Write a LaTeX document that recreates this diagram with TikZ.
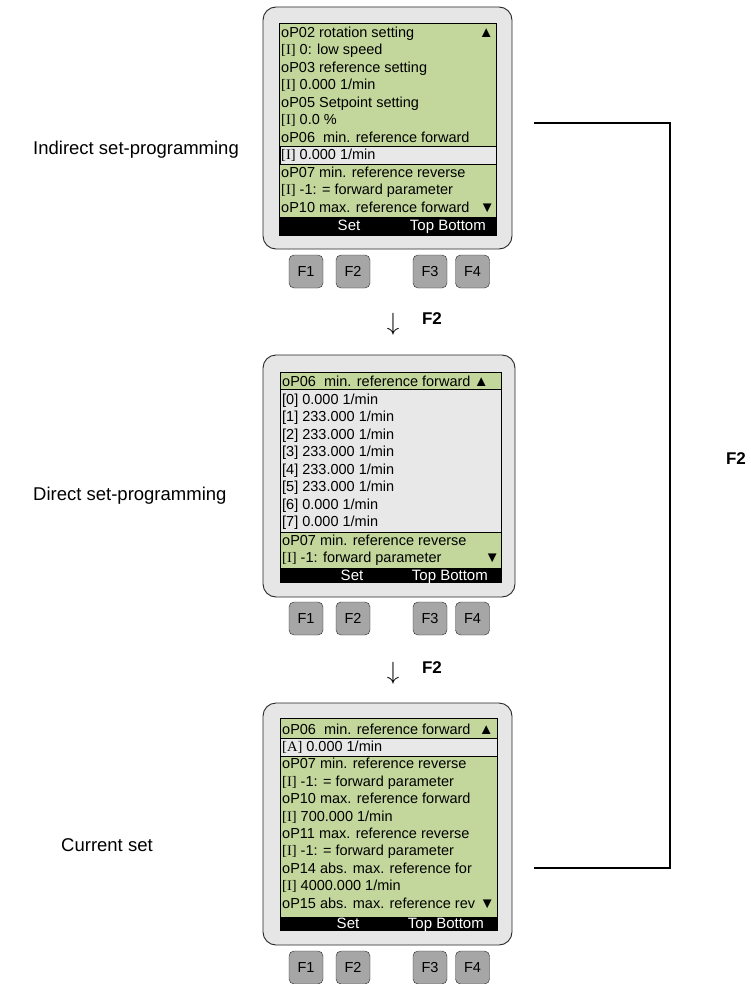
\documentclass[tikz,border=0pt]{standalone}
\usepackage{fontspec}
\setmainfont{Liberation Sans}
\newfontfamily\tagfont{Liberation Serif}
\usepackage{tikz}
\usetikzlibrary{positioning}
\definecolor{lcdgreen}{HTML}{C3D69B}
\definecolor{lcdgray}{HTML}{E8E8E8}
\definecolor{casegray}{HTML}{E6E6E6}
\definecolor{keygray}{HTML}{A6A6A6}
\newcommand{\tagI}{{\tagfont[I]}}
\newcommand{\tagA}{{\tagfont[A]}}
\newcommand{\up}{{\fontsize{15}{15}\selectfont ▲}}
\newcommand{\dn}{{\fontsize{15}{15}\selectfont ▼}}

\begin{document}
\begin{tikzpicture}[x=1pt, y=-1pt,
    casing/.style={draw=black!85, fill=casegray, line width=0.9pt, rounded corners=13pt, inner sep=0pt},
    softkey/.style={draw=black!85, fill=keygray, rounded corners=5pt, minimum width=34pt, minimum height=33pt, inner sep=0pt, font=\fontsize{14.5}{16}\selectfont},
    row/.style={anchor=base west, inner sep=0pt, font=\fontsize{14.5}{16}\selectfont},
    barlabel/.style={inner sep=0pt, text=white, font=\fontsize{15}{16}\selectfont},
    sidelabel/.style={anchor=west, inner sep=0pt, font=\fontsize{18.5}{20}\selectfont},
    keyhint/.style={inner sep=0pt, font=\bfseries\fontsize{17}{19}\selectfont},
    down/.style={inner sep=0pt, font=\fontsize{26}{26}\selectfont}
]
\useasboundingbox (0,0) rectangle (751,984);

% Indirect set-programming
\node[sidelabel] (lbl1) at (33,150) {Indirect set-programming};
\node[casing, minimum width=249pt, minimum height=242pt] (dev1) at (387.5,128) {};
\fill[lcdgreen] (279,23) rectangle (496,217);
\fill[black] (279,217) rectangle (496,235);
\draw[fill=lcdgray, line width=0.6pt] (280,146) rectangle (496,164);
\draw[line width=0.6pt] (279,23) rectangle (496,235);
\foreach \txt [count=\i from 0] in {oP02 rotation setting, \tagI{} 0: low speed,
    oP03 reference setting, \tagI{} 0.000 1/min, oP05 Setpoint setting, \tagI{} 0.0 \%,
    oP06~ min. reference forward, \tagI{} 0.000 1/min, oP07 min. reference reverse,
    \tagI{} -1: = forward parameter, oP10 max. reference forward}
  \node[row] (d1r\i) at (281,37.5+17.5*\i) {\txt};
\node[row, anchor=base east] (d1up) at (494,37.5) {\up};
\node[row, anchor=base east] (d1dn) at (495,212.5) {\dn};
\node[barlabel, anchor=base] (d1set) at (349,231) {Set};
\node[barlabel, anchor=base east] (d1top) at (486,231) {Top Bottom};
\foreach \k/\x in {1/306,2/353,3/430,4/472.5}
  \node[softkey] (d1f\k) at (\x,271.5) {F\k};

% Direct set-programming
\node[down] (arr1) at (393,324) {$\downarrow$};
\node[keyhint] (hint1) at (432,319) {F2};
\node[sidelabel] (lbl2) at (33,496) {Direct set-programming};
\node[casing, minimum width=252pt, minimum height=242pt] (dev2) at (389,476) {};
\fill[lcdgreen] (280,372) rectangle (501,568);
\fill[black] (280,568) rectangle (501,582);
\draw[fill=lcdgray, line width=0.6pt] (280,389) rectangle (501,532);
\draw[line width=0.6pt] (280,372) rectangle (501,582);
\node[row] (d2head) at (282,386) {oP06~ min. reference forward};
\node[row, anchor=base east] (d2up) at (489,386) {\up};
\foreach \v [count=\i from 0] in {0.000,233.000,233.000,233.000,233.000,233.000,0.000,0.000}
  \node[row] (d2r\i) at (282,404+17.5*\i) {[\i] \v{} 1/min};
\node[row] (d2a) at (282,545) {oP07 min. reference reverse};
\node[row] (d2b) at (282,562.5) {\tagI{} -1: forward parameter};
\node[row, anchor=base east] (d2dn) at (500,562.5) {\dn};
\node[barlabel, anchor=base] (d2set) at (352,580) {Set};
\node[barlabel, anchor=base east] (d2top) at (488,580) {Top Bottom};
\foreach \k/\x in {1/306,2/353,3/430,4/472.5}
  \node[softkey] (d2f\k) at (\x,618.5) {F\k};

% Current set
\node[down] (arr2) at (393,673) {$\downarrow$};
\node[keyhint] (hint2) at (432,668) {F2};
\node[sidelabel] (lbl3) at (61,845) {Current set};
\node[casing, minimum width=249pt, minimum height=242pt] (dev3) at (387.5,824) {};
\fill[lcdgreen] (280,718) rectangle (497,917);
\fill[black] (280,917) rectangle (497,930);
\draw[fill=lcdgray, line width=0.6pt] (280,738) rectangle (497,756);
\draw[line width=0.6pt] (280,718) rectangle (497,930);
\foreach \txt [count=\i from 0] in {oP06~ min. reference forward, \tagA{} 0.000 1/min,
    oP07 min. reference reverse, \tagI{} -1: = forward parameter,
    oP10 max. reference forward, \tagI{} 700.000 1/min, oP11 max. reference reverse,
    \tagI{} -1: = forward parameter, oP14 abs. max. reference for,
    \tagI{} 4000.000 1/min, oP15 abs. max. reference rev}
  \node[row] (d3r\i) at (282,734+17.4*\i) {\txt};
\node[row, anchor=base east] (d3up) at (494,734) {\up};
\node[row, anchor=base east] (d3dn) at (495,908) {\dn};
\node[barlabel, anchor=base] (d3set) at (348,928.5) {Set};
\node[barlabel, anchor=base east] (d3top) at (484,928.5) {Top Bottom};
\foreach \k/\x in {1/306,2/353,3/430,4/472.5}
  \node[softkey] (d3f\k) at (\x,967.5) {F\k};

% Jump back
\coordinate (jmpA) at (534,123);
\coordinate (jmpB) at (534,868);
\coordinate (jmpC) at (670,123);
\draw[line width=1.6pt] (jmpA) -- (jmpC) |- (jmpB);
\node[keyhint] (hint3) at (736,459) {F2};
\end{tikzpicture}
\end{document}
